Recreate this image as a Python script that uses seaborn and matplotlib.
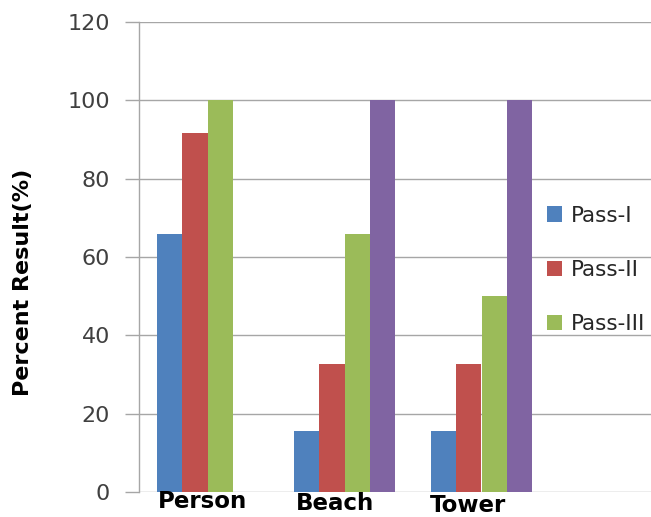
import matplotlib
matplotlib.use("Agg")
import matplotlib.pyplot as plt
from matplotlib.patches import Patch
from matplotlib.transforms import offset_copy
import pandas as pd
import seaborn as sns

# Scenes and detection passes
scenes = ["Person", "Beach", "Tower"]
passes = ["Pass-I", "Pass-II", "Pass-III", "Pass-IV"]
pass_i = [66, 15.7, 15.7]
pass_ii = [91.7, 32.6, 32.6]
pass_iii = [100, 66, 50]
pass_iv = [0, 100, 100]
legend_passes = ["Pass-I", "Pass-II", "Pass-III"]
yticks = [0, 20, 40, 60, 80, 100, 120]

colors = ["#4F81BD", "#C0504D", "#9BBB59", "#8064A2"]

rows = []
for name, vals in zip(passes, [pass_i, pass_ii, pass_iii, pass_iv]):
    for scene, v in zip(scenes, vals):
        rows.append({"Scene": scene, "Pass": name, "Percent": v})
df = pd.DataFrame(rows)

sns.set_style("white")
plt.rcParams["font.family"] = ["DejaVu Sans"]

W, H = 651, 517
left_px, top_px, bottom_px = 139, 22, 492
slot_px = 137                      # width of one category slot
ax_width_px = W - left_px + 130    # plot area runs past the right edge

fig = plt.figure(figsize=(W / 100, H / 100), dpi=100)
ax = fig.add_axes([left_px / W, (H - bottom_px) / H, ax_width_px / W, (bottom_px - top_px) / H])

sns.barplot(data=df, x="Scene", y="Percent", hue="Pass", hue_order=passes,
            order=scenes, palette=colors, width=0.73, saturation=1,
            linewidth=0, legend=False, ax=ax, zorder=3)

ax.set_xlim(-0.5, -0.5 + ax_width_px / slot_px)
ax.set_ylim(0, 120)
ax.set_yticks(yticks)
ax.set_yticklabels([str(t) for t in yticks], fontsize=16, color="#404040")
ax.tick_params(axis="y", length=10, width=1, color="#A6A6A6", pad=11, direction="out", left=True)
ax.set_xticks([])
ax.set_xlabel("")
ax.set_ylabel("")

ax.grid(axis="y", color="#A6A6A6", linewidth=1.0, zorder=0)
ax.set_axisbelow(True)
for side in ["top", "right", "bottom"]:
    ax.spines[side].set_visible(False)
ax.spines["left"].set_color("#A6A6A6")
ax.spines["left"].set_linewidth(1.0)

# Category labels under each group
label_offsets = [(-5.5, 2), (-10, 0), (-14, -1.5)]
for i, (scene, (dx, dy)) in enumerate(zip(scenes, label_offsets)):
    tr = offset_copy(ax.get_xaxis_transform(), fig=fig, x=dx * 0.72, y=dy * 0.72, units="points")
    ax.text(i, 0, scene, transform=tr, ha="center", va="top",
            fontsize=16.5, fontweight="bold", color="black")

fig.text(23 / W, (H - 282) / H, "Percent Result(%)", rotation=90,
         ha="center", va="center", fontsize=16, fontweight="bold", color="black")

handles = [Patch(facecolor=c, edgecolor="none") for c in colors[:3]]
fig.legend(handles, legend_passes, loc="center left",
           bbox_to_anchor=(547 / W, (H - 270) / H), frameon=False,
           borderpad=0, borderaxespad=0,
           fontsize=15.5, labelspacing=1.6, handlelength=0.7, handleheight=0.7,
           handletextpad=0.4, labelcolor="#262626")

fig.savefig("out.png", dpi=100, facecolor="white")
